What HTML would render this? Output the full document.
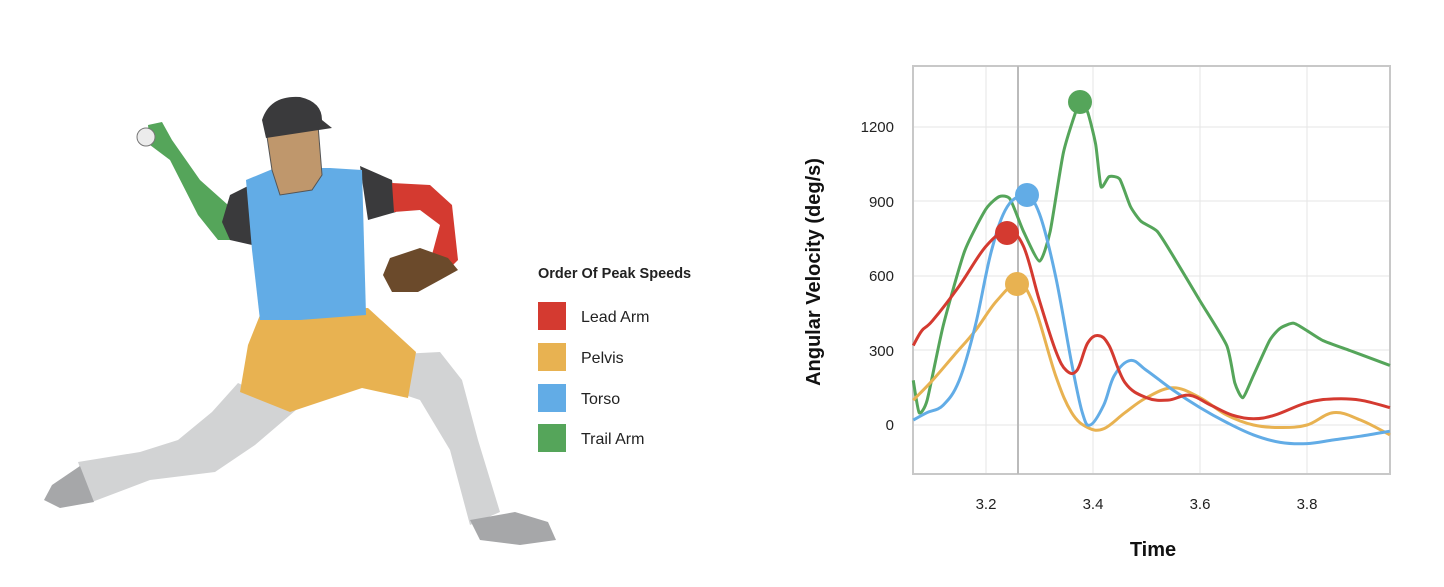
<!DOCTYPE html>
<html><head><meta charset="utf-8"><style>
body{margin:0;background:#fff;width:1444px;height:587px;overflow:hidden;font-family:"Liberation Sans",sans-serif}
svg{position:absolute;left:0;top:0}
</style></head><body>
<svg width="1444" height="587" viewBox="0 0 1444 587" xmlns="http://www.w3.org/2000/svg">
<g stroke="none">
<path d="M380,355 L440,352 L462,380 L478,440 L500,512 L470,525 L450,450 L420,400 L390,390 Z" fill="#d2d3d4"/>
<path d="M470,520 L515,512 L548,522 L556,540 L520,545 L480,540 Z" fill="#a6a7a9"/>
<path d="M238,383 L296,410 L255,445 L215,472 L150,480 L92,502 L78,462 L140,452 L178,440 L212,412 Z" fill="#d2d3d4"/>
<path d="M80,466 L94,502 L60,508 L44,500 L52,485 Z" fill="#a6a7a9"/>
<path d="M262,310 L368,308 L416,352 L408,398 L362,388 L290,412 L240,392 L248,345 Z" fill="#e8b251"/>
<path d="M148,125 L162,122 L172,140 L200,180 L228,205 L240,240 L218,240 L198,215 L170,160 L150,145 Z" fill="#55a55a"/>
<circle cx="146" cy="137" r="9" fill="#ececec" stroke="#777" stroke-width="1"/>
<path d="M230,195 L250,185 L252,245 L230,240 L222,222 Z" fill="#3a3a3c"/>
<path d="M360,166 L392,180 L396,212 L368,220 Z" fill="#3a3a3c"/>
<path d="M392,183 L430,185 L452,205 L458,260 L450,268 L430,262 L440,225 L420,210 L394,212 Z" fill="#d43a30"/>
<path d="M390,258 L420,248 L448,258 L458,270 L440,280 L418,292 L392,292 L383,275 Z" fill="#6b4a2b"/>
<path d="M246,180 L275,168 L330,168 L362,170 L366,315 L300,320 L260,320 L252,250 Z" fill="#62ace6"/>
<path d="M266,130 L318,125 L322,175 L312,190 L280,195 L272,170 Z" fill="#bf976c" stroke="#555" stroke-width="1"/>
<path d="M262,120 Q270,95 300,97 Q322,102 322,120 L332,128 L266,138 Z" fill="#3a3a3c"/>
</g>
<text x="538" y="278" font-size="14.5" font-weight="bold" fill="#222">Order Of Peak Speeds</text>
<rect x="538" y="302" width="28" height="28" fill="#d43a30"/>
<rect x="538" y="343" width="28" height="28" fill="#e8b251"/>
<rect x="538" y="384" width="28" height="28" fill="#62ace6"/>
<rect x="538" y="424" width="28" height="28" fill="#55a55a"/>
<g font-size="16" fill="#222">
<text x="581" y="322">Lead Arm</text>
<text x="581" y="363">Pelvis</text>
<text x="581" y="404">Torso</text>
<text x="581" y="444">Trail Arm</text>
</g>
<g stroke="#e6e6e6" stroke-width="1">
<line x1="986" y1="66" x2="986" y2="474"/><line x1="1093" y1="66" x2="1093" y2="474"/>
<line x1="1200" y1="66" x2="1200" y2="474"/><line x1="1307" y1="66" x2="1307" y2="474"/>
<line x1="913" y1="127" x2="1390" y2="127"/><line x1="913" y1="201" x2="1390" y2="201"/>
<line x1="913" y1="276" x2="1390" y2="276"/><line x1="913" y1="350" x2="1390" y2="350"/>
<line x1="913" y1="425" x2="1390" y2="425"/>
</g>
<rect x="913" y="66" width="477" height="408" fill="none" stroke="#c8c8c8" stroke-width="2"/>
<line x1="1018" y1="66" x2="1018" y2="474" stroke="#bbb" stroke-width="2"/>
<g font-size="15" fill="#222" text-anchor="end">
<text x="894" y="132">1200</text><text x="894" y="207">900</text>
<text x="894" y="281">600</text><text x="894" y="356">300</text><text x="894" y="430">0</text>
</g>
<g font-size="15" fill="#222" text-anchor="middle">
<text x="986" y="509">3.2</text><text x="1093" y="509">3.4</text>
<text x="1200" y="509">3.6</text><text x="1307" y="509">3.8</text>
</g>
<text x="1153" y="556" font-size="20" font-weight="bold" text-anchor="middle" fill="#111">Time</text>
<text transform="translate(820,272) rotate(-90)" font-size="20" font-weight="bold" text-anchor="middle" fill="#111">Angular Velocity (deg/s)</text>
<g id="lines" fill="none" stroke-width="3" stroke-linejoin="round"></g>
<circle cx="1080" cy="102" r="12" fill="#55a55a"/>
<circle cx="1027" cy="195" r="12" fill="#62ace6"/>
<circle cx="1007" cy="233" r="12" fill="#d43a30"/>
<circle cx="1017" cy="284" r="12" fill="#e8b251"/>
</svg>
<script>
var X=t=>986+(t-3.2)*535, Y=v=>425-v*0.2483;
var S={
"#55a55a":[[3.064,180],[3.075,50],[3.09,100],[3.12,400],[3.16,700],[3.2,870],[3.225,920],[3.245,910],[3.27,780],[3.3,660],[3.32,780],[3.345,1100],[3.375,1300],[3.39,1260],[3.405,1130],[3.415,960],[3.43,1000],[3.45,990],[3.47,880],[3.49,820],[3.52,780],[3.55,680],[3.6,500],[3.65,320],[3.665,170],[3.68,110],[3.7,200],[3.73,340],[3.75,390],[3.775,410],[3.8,380],[3.83,340],[3.88,300],[3.93,260],[3.955,240]],
"#e8b251":[[3.064,100],[3.1,180],[3.14,280],[3.18,380],[3.22,500],[3.26,570],[3.29,480],[3.33,200],[3.36,50],[3.39,-10],[3.42,-15],[3.46,50],[3.5,110],[3.55,150],[3.6,110],[3.65,40],[3.7,0],[3.75,-10],[3.8,0],[3.85,50],[3.9,20],[3.955,-40]],
"#62ace6":[[3.064,20],[3.09,50],[3.12,80],[3.15,180],[3.18,400],[3.21,700],[3.24,880],[3.275,920],[3.3,850],[3.33,600],[3.36,250],[3.38,50],[3.395,0],[3.42,80],[3.44,200],[3.47,260],[3.5,220],[3.55,140],[3.6,70],[3.65,10],[3.7,-40],[3.75,-70],[3.8,-75],[3.85,-60],[3.9,-45],[3.955,-25]],
"#d43a30":[[3.064,320],[3.08,380],[3.1,420],[3.15,560],[3.2,720],[3.24,780],[3.27,720],[3.3,500],[3.33,300],[3.35,220],[3.37,220],[3.39,330],[3.41,360],[3.43,320],[3.46,170],[3.5,110],[3.54,100],[3.58,120],[3.62,80],[3.66,40],[3.7,25],[3.74,40],[3.8,90],[3.85,105],[3.9,100],[3.955,70]]};
var g=document.getElementById('lines'),h='';
for(var c in S){var p=S[c].map(a=>[X(a[0]),Y(a[1])]);var d='M'+p[0][0]+','+p[0][1];var k=c=="#55a55a"?0.1:0.18;
for(var i=0;i<p.length-1;i++){var a=p[i-1]||p[i],b=p[i],e=p[i+1],f=p[i+2]||e;
d+=' C'+(b[0]+(e[0]-a[0])*k)+','+(b[1]+(e[1]-a[1])*k)+' '+(e[0]-(f[0]-b[0])*k)+','+(e[1]-(f[1]-b[1])*k)+' '+e[0]+','+e[1];}
h+='<path d="'+d+'" stroke="'+c+'"/>';}
g.innerHTML=h;
</script>
</body></html>
